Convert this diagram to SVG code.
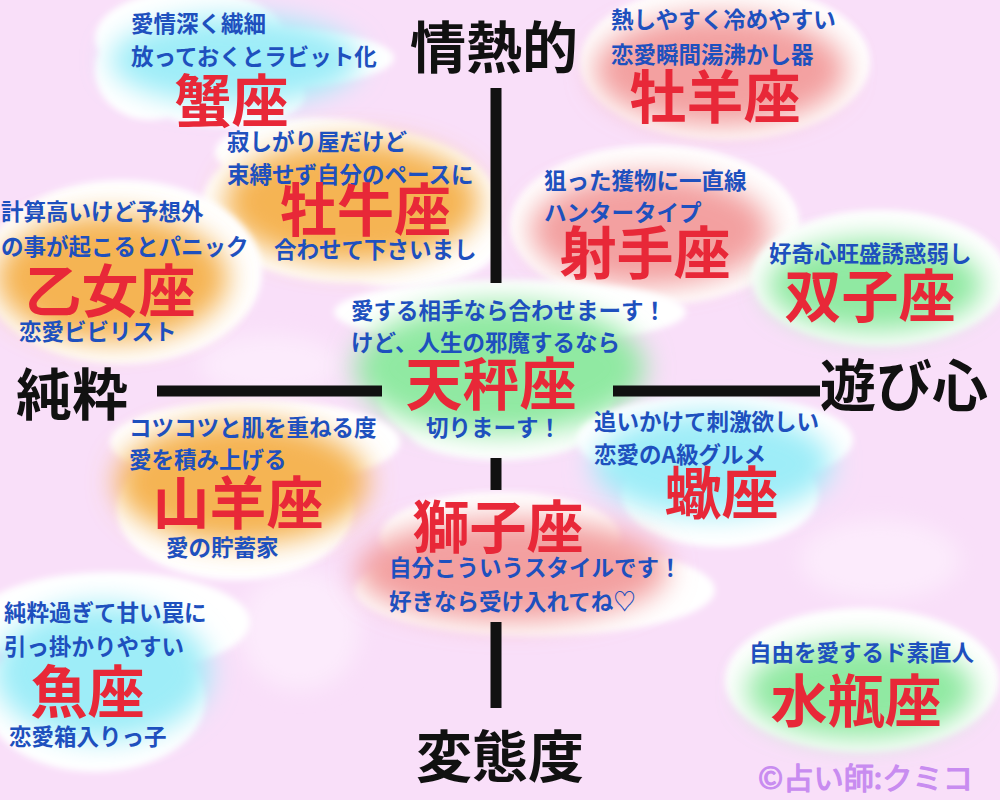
<svg xmlns="http://www.w3.org/2000/svg" width="1000" height="800" viewBox="0 0 1000 800">
<defs>
<filter id="edge" x="-20%" y="-20%" width="140%" height="140%"><feGaussianBlur stdDeviation="3"/></filter>
<filter id="glow" x="-60%" y="-60%" width="220%" height="220%"><feGaussianBlur stdDeviation="14"/></filter>
<filter id="haze" x="-60%" y="-60%" width="220%" height="220%"><feGaussianBlur stdDeviation="10"/></filter>
<style>
.halo{fill:#ffffff}
.s{font-family:"Noto Sans CJK JP","Noto Sans CJK SC",sans-serif;font-weight:700;font-size:22.5px;fill:#1e50be}
.b{font-family:"Noto Sans CJK JP","Noto Sans CJK SC",sans-serif;font-weight:700;font-size:57px;fill:#e82838}
.ax{font-family:"Noto Sans CJK JP","Noto Sans CJK SC",sans-serif;font-weight:700;font-size:56px;fill:#111111}
.blue{fill:#9eedf8}
.orange{fill:#f5b452}
.pink{fill:#f3a0a0}
.green{fill:#90e9a2}
.axis{stroke:#111111;stroke-width:11;fill:none}
</style>
</defs>
<rect width="1000" height="800" fill="#f9dff9"/>
<g id="bg-patches" filter="url(#haze)" fill="#fcebfc">
<ellipse cx="270" cy="365" rx="70" ry="30"/>
<ellipse cx="300" cy="630" rx="60" ry="60"/>
<ellipse cx="880" cy="560" rx="80" ry="40"/>
</g>

<g id="node-taurus">
<g class="halo" filter="url(#edge)">
<ellipse cx="350" cy="205" rx="148" ry="78"/>
<ellipse cx="315" cy="152" rx="100" ry="34"/>
<ellipse cx="400" cy="242" rx="100" ry="45"/>
</g>
<ellipse class="orange" cx="352" cy="202" rx="128" ry="62" filter="url(#glow)"/>
<text class="s" x="227" y="149.5">寂しがり屋だけど</text>
<text class="s" x="227" y="182.5">束縛せず自分のペースに</text>
<text class="b" x="280" y="231">牡牛座</text>
<text class="s" x="274" y="257.5">合わせて下さいまし</text>
</g>

<g id="node-cancer">
<g class="halo" filter="url(#edge)">
<ellipse cx="190" cy="38" rx="95" ry="48"/>
<ellipse cx="258" cy="58" rx="136" ry="30"/>
<ellipse cx="225" cy="95" rx="80" ry="32"/>
<ellipse cx="150" cy="70" rx="55" ry="50"/>
</g>
<ellipse class="blue" cx="235" cy="60" rx="125" ry="44" filter="url(#glow)"/>
<text class="s" x="131" y="31.5">愛情深く繊細</text>
<text class="s" x="131" y="64.5">放っておくとラビット化</text>
<text class="b" x="174.5" y="121.5">蟹座</text>
</g>

<g id="node-aries">
<g class="halo" filter="url(#edge)">
<ellipse cx="725" cy="62" rx="145" ry="78"/>
</g>
<ellipse class="pink" cx="720" cy="70" rx="126" ry="56" filter="url(#glow)"/>
<text class="s" x="611" y="27.5">熱しやすく冷めやすい</text>
<text class="s" x="611" y="62.5">恋愛瞬間湯沸かし器</text>
<text class="b" x="629.5" y="118">牡羊座</text>
</g>

<g id="node-sagittarius">
<g class="halo" filter="url(#edge)">
<ellipse cx="655" cy="225" rx="145" ry="80"/>
</g>
<ellipse class="pink" cx="650" cy="230" rx="120" ry="56" filter="url(#glow)"/>
<text class="s" x="544" y="188.5">狙った獲物に一直線</text>
<text class="s" x="544" y="220.5">ハンタータイプ</text>
<text class="b" x="559.5" y="274">射手座</text>
</g>

<g id="node-virgo">
<g class="halo" filter="url(#edge)">
<ellipse cx="122" cy="272" rx="140" ry="92"/>
</g>
<ellipse class="orange" cx="112" cy="278" rx="116" ry="64" filter="url(#glow)"/>
<text class="s" x="1" y="219.5">計算高いけど予想外</text>
<text class="s" x="1" y="254.5">の事が起こるとパニック</text>
<text class="b" x="24.5" y="312">乙女座</text>
<text class="s" x="19" y="339.5">恋愛ビビリスト</text>
</g>

<g id="node-gemini">
<g class="halo" filter="url(#edge)">
<ellipse cx="880" cy="278" rx="128" ry="68"/>
</g>
<ellipse class="green" cx="875" cy="285" rx="108" ry="46" filter="url(#glow)"/>
<text class="s" x="769" y="261.5">好奇心旺盛誘惑弱し</text>
<text class="b" x="784.5" y="317">双子座</text>
</g>

<g id="node-libra">
<g class="halo" filter="url(#edge)">
<ellipse cx="510" cy="312" rx="176" ry="32"/>
<ellipse cx="496" cy="385" rx="120" ry="74"/>
<ellipse cx="500" cy="430" rx="92" ry="30"/>
</g>
<ellipse class="green" cx="500" cy="368" rx="145" ry="66" filter="url(#glow)"/>
<text class="s" x="351" y="318.5">愛する相手なら合わせまーす！</text>
<text class="s" x="351" y="351">けど、人生の邪魔するなら</text>
<text class="b" x="405.5" y="405">天秤座</text>
<text class="s" x="426" y="436">切りまーす！</text>
</g>

<g id="node-capricorn">
<g class="halo" filter="url(#edge)">
<ellipse cx="255" cy="442" rx="145" ry="42"/>
<ellipse cx="235" cy="510" rx="118" ry="70"/>
</g>
<ellipse class="orange" cx="242" cy="482" rx="126" ry="62" filter="url(#glow)"/>
<text class="s" x="129" y="436">コツコツと肌を重ねる度</text>
<text class="s" x="129" y="468">愛を積み上げる</text>
<text class="b" x="152.5" y="524">山羊座</text>
<text class="s" x="166" y="556">愛の貯蓄家</text>
</g>

<g id="node-scorpio">
<g class="halo" filter="url(#edge)">
<ellipse cx="715" cy="440" rx="138" ry="45"/>
<ellipse cx="720" cy="495" rx="98" ry="52"/>
</g>
<ellipse class="blue" cx="712" cy="464" rx="120" ry="52" filter="url(#glow)"/>
<text class="s" x="594" y="429.5">追いかけて刺激欲しい</text>
<text class="s" x="594" y="462.5">恋愛のA級グルメ</text>
<text class="b" x="664.5" y="514">蠍座</text>
</g>

<g id="node-leo">
<g class="halo" filter="url(#edge)">
<ellipse cx="500" cy="537" rx="120" ry="45"/>
<ellipse cx="535" cy="590" rx="180" ry="46"/>
</g>
<ellipse class="pink" cx="512" cy="570" rx="156" ry="52" filter="url(#glow)"/>
<text class="b" x="412.5" y="548">獅子座</text>
<text class="s" x="389" y="576">自分こういうスタイルです！</text>
<text class="s" x="389" y="609.5">好きなら受け入れてね♡</text>
</g>

<g id="node-pisces">
<g class="halo" filter="url(#edge)">
<ellipse cx="112" cy="622" rx="138" ry="50"/>
<ellipse cx="95" cy="700" rx="110" ry="72"/>
</g>
<ellipse class="blue" cx="102" cy="672" rx="108" ry="68" filter="url(#glow)"/>
<text class="s" x="4" y="621">純粋過ぎて甘い罠に</text>
<text class="s" x="4" y="654.5">引っ掛かりやすい</text>
<text class="b" x="30.5" y="713">魚座</text>
<text class="s" x="9" y="744.5">恋愛箱入りっ子</text>
</g>

<g id="node-aquarius">
<g class="halo" filter="url(#edge)">
<ellipse cx="862" cy="680" rx="137" ry="72"/>
</g>
<ellipse class="green" cx="860" cy="690" rx="114" ry="48" filter="url(#glow)"/>
<text class="s" x="749" y="660.5">自由を愛するド素直人</text>
<text class="b" x="770.5" y="722">水瓶座</text>
</g>

<g id="connectors">
<line class="axis" x1="496" y1="88" x2="496" y2="283"/>
<line class="axis" x1="496" y1="458" x2="496" y2="490"/>
<line class="axis" x1="496" y1="622" x2="496" y2="708"/>
<line class="axis" x1="157" y1="391" x2="382" y2="391"/>
<line class="axis" x1="613" y1="391" x2="820" y2="391"/>
</g>

<g id="axis-labels">
<text class="ax" x="410" y="68">情熱的</text>
<text class="ax" x="16" y="415">純粋</text>
<text class="ax" x="820" y="406">遊び心</text>
<text class="ax" x="416" y="777">変態度</text>
</g>

<g id="credit">
<text x="758" y="789" font-family="'Noto Sans CJK JP',sans-serif" font-size="30" font-weight="400" fill="#c88cf0" stroke="#c88cf0" stroke-width="1.2" stroke-linejoin="round" textLength="215" lengthAdjust="spacingAndGlyphs">©占い師:クミコ</text>
</g>
</svg>
